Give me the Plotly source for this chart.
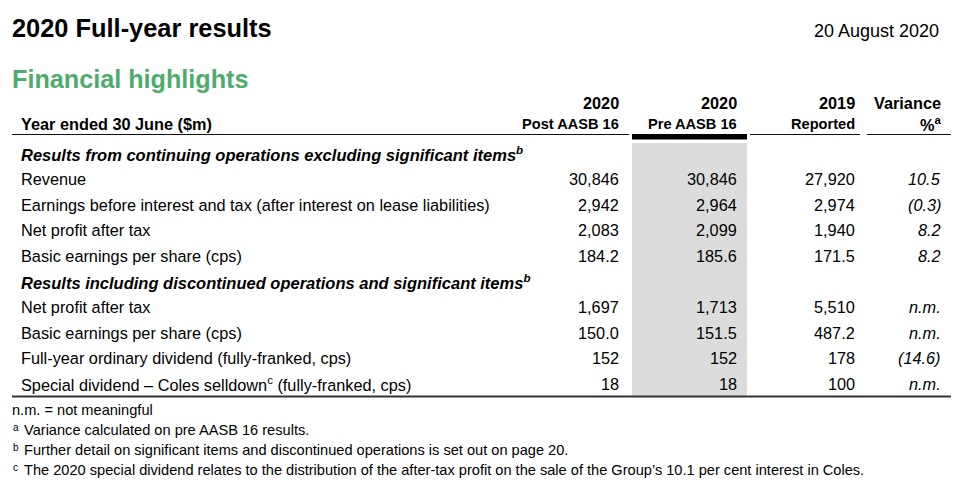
import plotly.graph_objects as go

# ---------------- data ----------------
title_text = "2020 Full-year results"
date_text = "20 August 2020"
subtitle_text = "Financial highlights"
header_label = "Year ended 30 June ($m)"
col_years = ["2020", "2020", "2019", "Variance"]
col_subs = ["Post AASB 16", "Pre AASB 16", "Reported", "%<sup>a</sup>"]

section_titles = [
    "Results from continuing operations excluding significant items<sup>b</sup>",
    "Results including discontinued operations and significant items<sup>b</sup>",
]
row_labels = [
    ["Revenue",
     "Earnings before interest and tax (after interest on lease liabilities)",
     "Net profit after tax",
     "Basic earnings per share (cps)"],
    ["Net profit after tax",
     "Basic earnings per share (cps)",
     "Full-year ordinary dividend (fully-franked, cps)",
     "Special dividend \u2013 Coles selldown<sup>c</sup> (fully-franked, cps)"],
]
post_aasb16 = [["30,846", "2,942", "2,083", "184.2"], ["1,697", "150.0", "152", "18"]]
pre_aasb16 = [["30,846", "2,964", "2,099", "185.6"], ["1,713", "151.5", "152", "18"]]
reported_2019 = [["27,920", "2,974", "1,940", "171.5"], ["5,510", "487.2", "178", "100"]]
variance_pct = [["10.5", "(0.3)", "8.2", "8.2"], ["n.m.", "n.m.", "(14.6)", "n.m."]]

footnote_marks = ["", "a", "b", "c"]
footnote_texts = [
    "n.m. = not meaningful",
    "Variance calculated on pre AASB 16 results.",
    "Further detail on significant items and discontinued operations is set out on page 20.",
    "The 2020 special dividend relates to the distribution of the after-tax profit on the sale of the Group\u2019s 10.1 per cent interest in Coles.",
]

# ---------------- layout constants ----------------
W, H = 959, 488
OFF = 8  # page body margin of the html page
FONT = "Liberation Sans, Arial, Helvetica, sans-serif"
GREEN = "#4DAB6C"
SHADE = "#DCDCDC"
col_right = [621, 739, 857, 943]
label_x = 19
body_size = 16.3
section_size = 16.5
sub_sizes = [14.6, 14.6, 14.6, 16.3]
row_step = 25.6
first_row_y = 153.5

annotations = []
shapes = []


def txt(x, y, text, size=body_size, color="#000", weight="normal", style="normal",
        xanchor="left", family=FONT):
    annotations.append(dict(
        x=x, y=y, xref="x", yref="y", text=text, showarrow=False,
        xanchor=xanchor, yanchor="middle", align=xanchor if xanchor != "center" else "center",
        font=dict(family=family, size=size, color=color, weight=weight, style=style),
    ))


# titles
txt(10, 28, title_text, size=25.4, weight="bold")
txt(941, 31, date_text, size=18, xanchor="right")
txt(10, 79, subtitle_text, size=25.2, weight="bold", color=GREEN)

# header
txt(label_x, 124, header_label, weight="bold")
for i in range(4):
    txt(col_right[i], 103, col_years[i], weight="bold", xanchor="right")
    txt(col_right[i], 124, col_subs[i], size=sub_sizes[i], weight="bold", xanchor="right")

# shaded column
shapes.append(dict(type="rect", xref="x", yref="y", x0=632, x1=747, y0=143, y1=396,
                   fillcolor=SHADE, line=dict(width=0), layer="below"))
# header rules
for x0, x1 in [(12, 629), (750, 860), (867, 953)]:
    shapes.append(dict(type="line", xref="x", yref="y", x0=x0, x1=x1, y0=134.5, y1=134.5,
                       line=dict(color="#111", width=1.2)))
shapes.append(dict(type="rect", xref="x", yref="y", x0=632, x1=747, y0=134, y1=139.5,
                   fillcolor="#000", line=dict(width=0)))
# bottom rule
shapes.append(dict(type="line", xref="x", yref="y", x0=12, x1=953, y0=396.5, y1=396.5,
                   line=dict(color="#333", width=2)))

# body
r = 0
for s in range(2):
    y = first_row_y + r * row_step
    txt(label_x, y, section_titles[s], size=section_size, weight="bold", style="italic")
    r += 1
    for k in range(len(row_labels[s])):
        y = first_row_y + r * row_step
        txt(label_x, y, row_labels[s][k])
        txt(col_right[0], y, post_aasb16[s][k], xanchor="right")
        txt(col_right[1], y, pre_aasb16[s][k], xanchor="right")
        txt(col_right[2], y, reported_2019[s][k], xanchor="right")
        txt(col_right[3], y, variance_pct[s][k], xanchor="right", style="italic")
        r += 1

# footnotes
for i in range(4):
    y = 410 + i * 20
    if footnote_marks[i]:
        txt(11, y - 3, footnote_marks[i], size=10)
        txt(22, y, footnote_texts[i], size=14.6)
    else:
        txt(10, y, footnote_texts[i], size=14.6)

fig = go.Figure()
fig.update_layout(
    width=W - OFF, height=H - OFF, margin=dict(l=0, r=0, t=0, b=0),
    paper_bgcolor="white", plot_bgcolor="white",
    xaxis=dict(range=[OFF, W], visible=False, fixedrange=True),
    yaxis=dict(range=[H, OFF], visible=False, fixedrange=True),
    annotations=annotations, shapes=shapes, showlegend=False,
)
fig.write_html("out.html", config={"displayModeBar": False})
